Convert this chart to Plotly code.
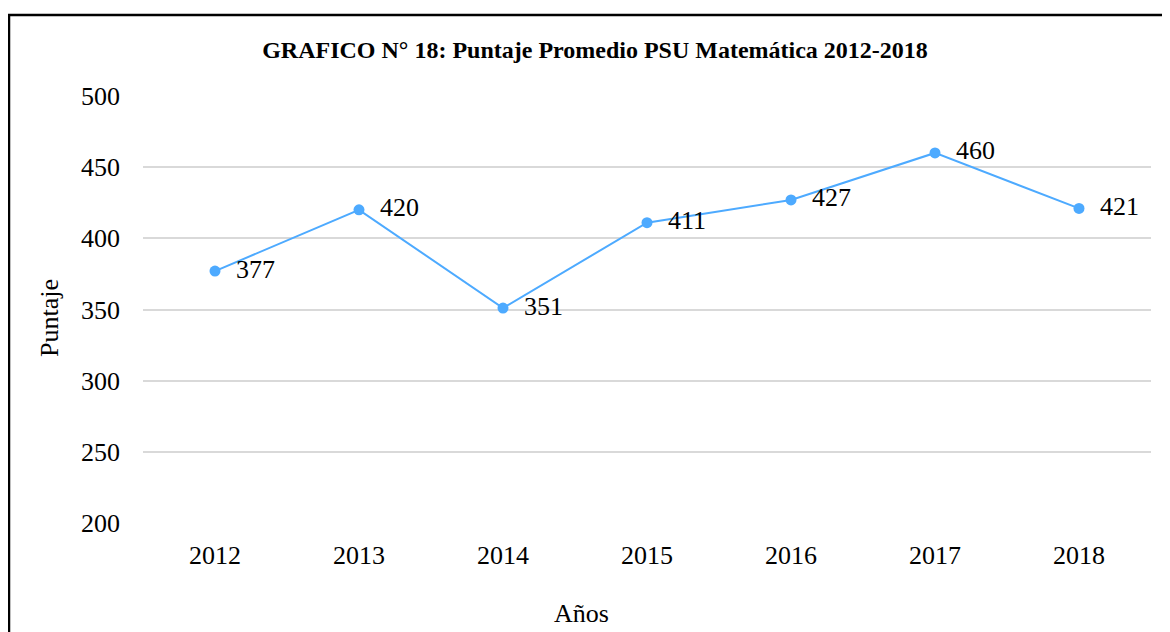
import plotly.graph_objects as go

years = ["2012", "2013", "2014", "2015", "2016", "2017", "2018"]
scores = [377, 420, 351, 411, 427, 460, 421]
y_ticks = [200, 250, 300, 350, 400, 450, 500]

FONT = "Liberation Serif, Times New Roman, serif"
OFF = 8  # page body margin
W, H = 1170, 632
# plot area in page pixels: x 143..1151, y 96..523
L, R, T, B = 143 - OFF, W - (1151 - OFF), 96 - OFF, H - (523 - OFF)
pw, ph = W - L - R, H - T - B

def px_x(x):
    return (x - OFF - L) / pw

def px_y(y):
    return (H - B - (y - OFF)) / ph

NB = "\u00a0\u00a0"

fig = go.Figure()
fig.add_trace(go.Scatter(
    x=years, y=scores, mode="lines+markers+text",
    line=dict(color="#4daaff", width=2),
    marker=dict(color="#4daaff", size=11),
    text=[NB + str(v) for v in scores],
    textposition="middle right",
    textfont=dict(family=FONT, size=26, color="#000000"),
    cliponaxis=False,
    showlegend=False,
))

fig.update_layout(
    width=W, height=H,
    margin=dict(l=L, r=R, t=T, b=B, pad=0),
    paper_bgcolor="white", plot_bgcolor="white",
    font=dict(family=FONT, size=26, color="#000000"),
    title=dict(
        text="<b>GRAFICO N° 18: Puntaje Promedio PSU Matemática 2012-2018</b>",
        x=(595 - OFF) / W, xanchor="center", xref="container",
        y=1 - (50 - OFF) / H, yanchor="middle", yref="container",
        font=dict(family=FONT, size=24, color="#000000"),
    ),
    xaxis=dict(
        type="category", range=[-0.5, 6.5], showgrid=False, showline=False,
        zeroline=False, ticks="", tickfont=dict(family=FONT, size=26),
        ticklabelstandoff=14,
    ),
    yaxis=dict(
        range=[200, 500], tickvals=y_ticks, showgrid=True,
        gridcolor="#d9d9d9", gridwidth=1.5, showline=False, zeroline=False,
        ticks="", tickfont=dict(family=FONT, size=26), ticklabelstandoff=22,
    ),
    annotations=[
        dict(text="Años", x=px_x(581), y=px_y(613), xref="paper", yref="paper",
             showarrow=False, xanchor="center", yanchor="middle",
             font=dict(family=FONT, size=26)),
        dict(text="Puntaje", x=px_x(49), y=px_y(318), xref="paper", yref="paper",
             showarrow=False, xanchor="center", yanchor="middle", textangle=-90,
             font=dict(family=FONT, size=26)),
    ],
    shapes=[
        dict(type="rect", xref="paper", yref="paper",
             x0=px_x(9), x1=px_x(1200), y0=px_y(15), y1=px_y(700),
             line=dict(color="#000000", width=2.5), fillcolor="rgba(0,0,0,0)",
             layer="above"),
    ],
)

fig.write_html("out.html")
